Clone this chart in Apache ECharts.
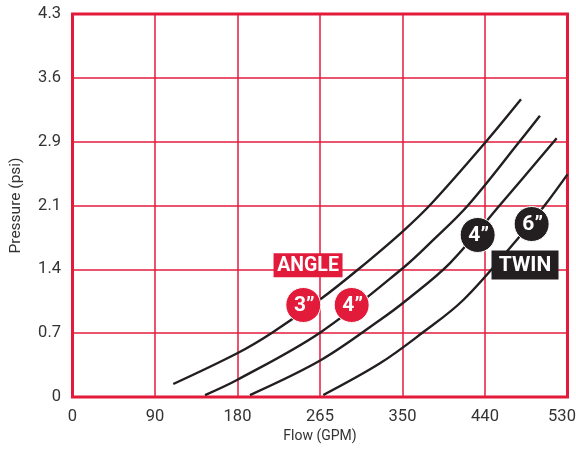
<!DOCTYPE html>
<html>
<head>
<meta charset="utf-8">
<script src="https://cdn.jsdelivr.net/npm/echarts@6/dist/echarts.min.js"></script>
<style>html,body{margin:0;padding:0;background:#fff;}#c{width:576px;height:451px;}</style>
</head>
<body>
<div id="c"></div>
<script>
// Tick labels (evenly spaced grid)
const xTickLabels = ['0', '90', '180', '265', '350', '440', '530'];
const yTickLabels = ['0', '0.7', '1.4', '2.1', '2.9', '3.6', '4.3'];

// Curves: [flow (GPM), pressure (psi)]
const angle3 = [[107.9,0.146],[176.9,0.494],[213.3,0.719],[266.8,1.108],[305.7,1.431],[352.8,1.852],[384.9,2.178],[442.7,2.866],[480.2,3.342]];
const angle4 = [[141.9,0.022],[176.1,0.191],[265.0,0.722],[353.9,1.448],[386.3,1.763],[423.8,2.156],[479.1,2.874],[500.5,3.158]];
const twin4 = [[190.0,0.022],[266.1,0.415],[329.2,0.864],[357.8,1.089],[404.2,1.504],[457.7,2.156],[518.4,2.904]];
const twin6 = [[268.5,0.022],[329.2,0.378],[373.9,0.715],[418.4,1.089],[475.6,1.763],[505.9,2.156],[530,2.50]];

// Badge annotations: [flow, pressure, text]
const angleBadges = [[247.1,1.033,'3”'],[298.9,1.033,'4”']];
const twinBadges = [[433.8,1.819,'4”'],[491.6,1.942,'6”']];
const angleTag = [252.2,1.479,'ANGLE'];
const twinTag = [484.5,1.482,'TWIN'];

const RED = '#e31b3b';
const BLACK = '#231f20';
const FONT = 'Roboto, "Noto Sans", sans-serif';
const XMAX = 530, YMAX = 4.3;

const chart = echarts.init(document.getElementById('c'));

function circleMarks(arr, color) {
  return arr.map(d => ({
    coord: [d[0], d[1]], value: d[2],
    symbol: 'circle', symbolSize: 35,
    itemStyle: { color: color, borderColor: '#fff', borderWidth: 1 },
    label: { show: true, formatter: d[2], color: '#fff', fontFamily: FONT, fontWeight: 'bold', fontSize: 21, offset: [1, 1] }
  }));
}
function rectMark(d, color, size, fs) {
  return {
    coord: [d[0], d[1]], value: d[2],
    symbol: 'rect', symbolSize: size,
    itemStyle: { color: color },
    label: { show: true, formatter: d[2], color: '#fff', fontFamily: FONT, fontWeight: 'bold', fontSize: fs, offset: [0, 1] }
  };
}

function lineSeries(data, marks) {
  const s = {
    type: 'line', data: data, smooth: 0.35, showSymbol: false, silent: true,
    lineStyle: { color: BLACK, width: 2.4 }, z: 3
  };
  if (marks) s.markPoint = { data: marks, silent: true, animation: false, z: 5 };
  return s;
}

chart.setOption({
  animation: false,
  grid: { left: 72.5, right: 8.5, top: 14, bottom: 54, outerBoundsMode: 'none', containLabel: false,
    show: true, borderColor: RED, borderWidth: 3, backgroundColor: 'transparent' },
  xAxis: {
    type: 'value', min: 0, max: XMAX, interval: XMAX / 6,
    name: 'Flow (GPM)', nameLocation: 'middle', nameGap: 31,
    nameTextStyle: { fontFamily: FONT, fontSize: 14, color: '#333' },
    axisLine: { show: false }, axisTick: { show: false },
    axisLabel: { margin: 11, fontFamily: FONT, fontSize: 16.5, color: '#333',
      formatter: v => {
        const i = Math.round(v / (XMAX / 6));
        return i === 6 ? '{last|' + xTickLabels[i] + '}' : xTickLabels[i];
      },
      rich: { last: { fontFamily: FONT, fontSize: 16.5, color: '#333', padding: [0, 11, 0, 0] } }
    },
    splitLine: { show: true, lineStyle: { color: RED, width: 1.5 } }
  },
  yAxis: {
    type: 'value', min: 0, max: YMAX, interval: YMAX / 6,
    name: 'Pressure (psi)', nameLocation: 'middle', nameGap: 48,
    nameTextStyle: { fontFamily: FONT, fontSize: 15.5, color: '#333' },
    axisLine: { show: false }, axisTick: { show: false },
    axisLabel: { margin: 11.5, fontFamily: FONT, fontSize: 16.5, color: '#333',
      formatter: v => yTickLabels[Math.round(v / (YMAX / 6))] },
    splitLine: { show: true, lineStyle: { color: RED, width: 1.5 } }
  },
  series: [
    lineSeries(angle3, circleMarks(angleBadges, RED).concat([rectMark(angleTag, RED, [69, 24], 19.5)])),
    lineSeries(angle4),
    lineSeries(twin4, circleMarks(twinBadges, BLACK).concat([rectMark(twinTag, BLACK, [67, 29], 21)])),
    lineSeries(twin6)
  ]
});
</script>
</body>
</html>
